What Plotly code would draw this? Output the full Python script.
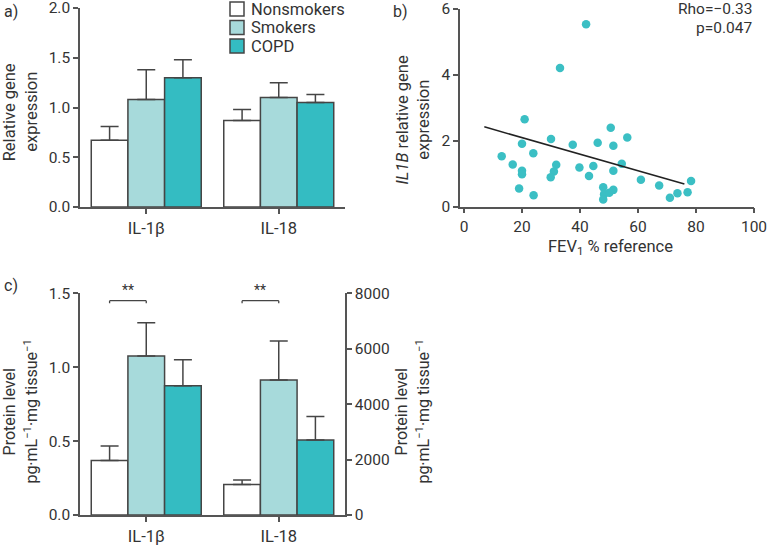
import plotly.graph_objects as go

W, H = 768, 547

# ---------------- data ----------------
genes = ["IL-1β", "IL-18"]
groups = ["Nonsmokers", "Smokers", "COPD"]
colors = ["#ffffff", "#a7dadb", "#34bcc2"]

# panel a: relative gene expression (mean, upper SEM end)
a_mean = {"Nonsmokers": [0.67, 0.87], "Smokers": [1.08, 1.10], "COPD": [1.30, 1.05]}
a_top = {"Nonsmokers": [0.81, 0.98], "Smokers": [1.38, 1.25], "COPD": [1.48, 1.13]}

# panel b: scatter FEV1 vs IL1B
fev1 = [42.1, 33.1, 20.9, 30.0, 20.0, 37.5, 46.1, 50.6, 56.3, 51.5,
        13.0, 16.8, 23.9, 20.0, 20.0, 31.8, 31.0, 29.9, 39.8, 44.6,
        43.1, 54.4, 51.5, 19.0, 24.0, 48.0, 51.5, 48.3, 50.1, 48.0,
        61.0, 67.3, 71.0, 73.6, 77.1, 78.3]
il1b = [5.53, 4.20, 2.65, 2.05, 1.91, 1.88, 1.94, 2.39, 2.10, 1.85,
        1.53, 1.28, 1.62, 1.09, 0.98, 1.27, 1.07, 0.89, 1.19, 1.23,
        0.93, 1.30, 1.09, 0.55, 0.35, 0.59, 0.51, 0.38, 0.42, 0.22,
        0.82, 0.64, 0.27, 0.41, 0.44, 0.78]
trend_x = [7, 76]
trend_y = [2.42, 0.69]

# panel c: protein level; IL-1β on left axis, IL-18 on right axis
c_il1b_mean = [0.368, 1.076, 0.875]
c_il1b_top = [0.467, 1.30, 1.05]
c_il18_mean = [1100, 4870, 2710]
c_il18_top = [1265, 6280, 3550]

# ---------------- style ----------------
FONT = "Roboto"
TXT = "#333333"
AX = "#555555"
EDGE = "#454545"

def px_x(p):
    return p / W

def px_y(p):
    return 1 - p / H

fig = go.Figure()

# panel a bars
for g, c in zip(groups, colors):
    err = [t - m for t, m in zip(a_top[g], a_mean[g])]
    fig.add_trace(go.Bar(
        x=genes, y=a_mean[g], name=g, marker=dict(color=c, line=dict(color=EDGE, width=1.5)),
        error_y=dict(type="data", array=err, arrayminus=[0] * len(err), symmetric=False,
                     color=EDGE, thickness=1.5, width=9),
        xaxis="x", yaxis="y", showlegend=False, offsetgroup=g, alignmentgroup="a"))

# panel b scatter + trend
fig.add_trace(go.Scatter(x=fev1, y=il1b, mode="markers", xaxis="x2", yaxis="y2",
                         marker=dict(color="#3bbfc4", size=8.5), showlegend=False, cliponaxis=False))
fig.add_trace(go.Scatter(x=trend_x, y=trend_y, mode="lines", xaxis="x2", yaxis="y2",
                         line=dict(color="#222222", width=1.5), showlegend=False))

# panel c bars
for i, (g, c) in enumerate(zip(groups, colors)):
    fig.add_trace(go.Bar(
        x=[genes[0]], y=[c_il1b_mean[i]], name=g, marker=dict(color=c, line=dict(color=EDGE, width=1.5)),
        error_y=dict(type="data", array=[c_il1b_top[i] - c_il1b_mean[i]], arrayminus=[0], symmetric=False,
                     color=EDGE, thickness=1.5, width=9),
        xaxis="x3", yaxis="y3", showlegend=False, offsetgroup=g, alignmentgroup="c"))
for i, (g, c) in enumerate(zip(groups, colors)):
    fig.add_trace(go.Bar(
        x=[genes[1]], y=[c_il18_mean[i]], name=g, marker=dict(color=c, line=dict(color=EDGE, width=1.5)),
        error_y=dict(type="data", array=[c_il18_top[i] - c_il18_mean[i]], arrayminus=[0], symmetric=False,
                     color=EDGE, thickness=1.5, width=9),
        xaxis="x3", yaxis="y4", showlegend=False, offsetgroup=g, alignmentgroup="c"))

numfont = dict(family=FONT, size=15.5, color=TXT)
catfont = dict(family=FONT, size=16.5, color=TXT)
common = dict(showline=True, linecolor=AX, linewidth=1.5, ticks="outside", ticklen=5,
              tickwidth=1.5, tickcolor=AX, showgrid=False, zeroline=False, automargin=False,
              ticklabeloverflow="allow")

xa_dom = [px_x(80), px_x(345)]
fig.update_layout(
    template="none",
    width=W, height=H, margin=dict(l=0, r=0, t=0, b=0, pad=0, autoexpand=False),
    paper_bgcolor="white", plot_bgcolor="white",
    barmode="group", bargap=0.17, bargroupgap=0,
    font=dict(family=FONT, size=15, color=TXT),
    showlegend=False,
    xaxis=dict(domain=xa_dom, anchor="y", type="category", categoryorder="array",
               categoryarray=genes, range=[-0.5, 1.5], tickfont=catfont, **common),
    yaxis=dict(domain=[px_y(207), px_y(8)], anchor="x", range=[0, 2.0], dtick=0.5,
               tickformat=".1f", tickfont=numfont, **common),
    xaxis2=dict(domain=[px_x(460), px_x(754)], anchor="y2", range=[-1.38, 100], dtick=20,
                tickfont=numfont, **common),
    yaxis2=dict(domain=[px_y(206.7), px_y(8.7)], anchor="x2", range=[0, 6], dtick=2,
                tickfont=numfont, **common),
    xaxis3=dict(domain=xa_dom, anchor="y3", type="category", categoryorder="array",
                categoryarray=genes, range=[-0.5, 1.5], tickfont=catfont, **common),
    yaxis3=dict(domain=[px_y(515), px_y(293.3)], anchor="x3", range=[0, 1.5], dtick=0.5,
                tickformat=".1f", tickfont=numfont, **common),
    yaxis4=dict(overlaying="y3", anchor="x3", side="right", range=[0, 8000], dtick=2000,
                tickformat="d", tickfont=numfont, **common),
)

ann = []
def add_text(text, x, y, angle=0, size=15, xanchor="center", yanchor="middle", align="center"):
    ann.append(dict(text=text, x=px_x(x), y=px_y(y), xref="paper", yref="paper", showarrow=False,
                    textangle=angle, xanchor=xanchor, yanchor=yanchor, align=align,
                    font=dict(family=FONT, size=size, color=TXT)))

add_text("a)", 2, 11, xanchor="left", size=16)
add_text("b)", 391, 11, xanchor="left", size=16)
add_text("c)", 2, 285, xanchor="left", size=16)
# panel a y title (two lines)
add_text("Relative gene", 9.3, 112, angle=-90, size=16.5)
add_text("expression", 30.7, 112, angle=-90, size=16.5)
# panel b titles
add_text("<i>IL1B</i> relative gene", 402.5, 120, angle=-90, size=16.5)
add_text("expression", 423.7, 120, angle=-90, size=16.5)
add_text("FEV<sub>1</sub> % reference", 610, 247, size=16.5)
add_text("Rho=−0.33", 755, 9, xanchor="right", size=15.5)
add_text("p=0.047", 754, 27.5, xanchor="right", size=15.5)
# panel c titles (left and right)
for xc in (20, 412):
    add_text("Protein level", xc - 10.6, 412, angle=-90, size=16)
    add_text("pg·mL<sup>−1</sup>·mg tissue<sup>−1</sup>", xc + 10.6, 412, angle=-90, size=16)

# manual legend (panel a)
leg_rows = [9, 27.5, 46]
for g, c, yc in zip(groups, colors, leg_rows):
    fig.add_shape(type="rect", xref="paper", yref="paper",
                  x0=px_x(230), x1=px_x(244), y0=px_y(yc + 7), y1=px_y(yc - 7),
                  fillcolor=c, line=dict(color=EDGE, width=1.5))
    add_text(g, 249, yc, xanchor="left", size=16.5)

# significance brackets (panel c)
bw = 0.83 / 3
for base in [0, 1]:
    x0, x1 = base - bw, base
    for (xs, ys, xe, ye) in [(x0, 1.432, x0, 1.45), (x0, 1.45, x1, 1.45), (x1, 1.45, x1, 1.432)]:
        fig.add_shape(type="line", xref="x3", yref="y3", x0=xs, y0=ys, x1=xe, y1=ye,
                      line=dict(color=EDGE, width=1.3))
    ann.append(dict(text="**", x=(x0 + x1) / 2, y=1.455, xref="x3", yref="y3", showarrow=False,
                    yanchor="bottom", font=dict(family=FONT, size=14, color=TXT)))

fig.update_layout(annotations=ann)
fig.write_html("out.html", config={"displayModeBar": False},
               post_script="document.body.style.margin='0px';")
